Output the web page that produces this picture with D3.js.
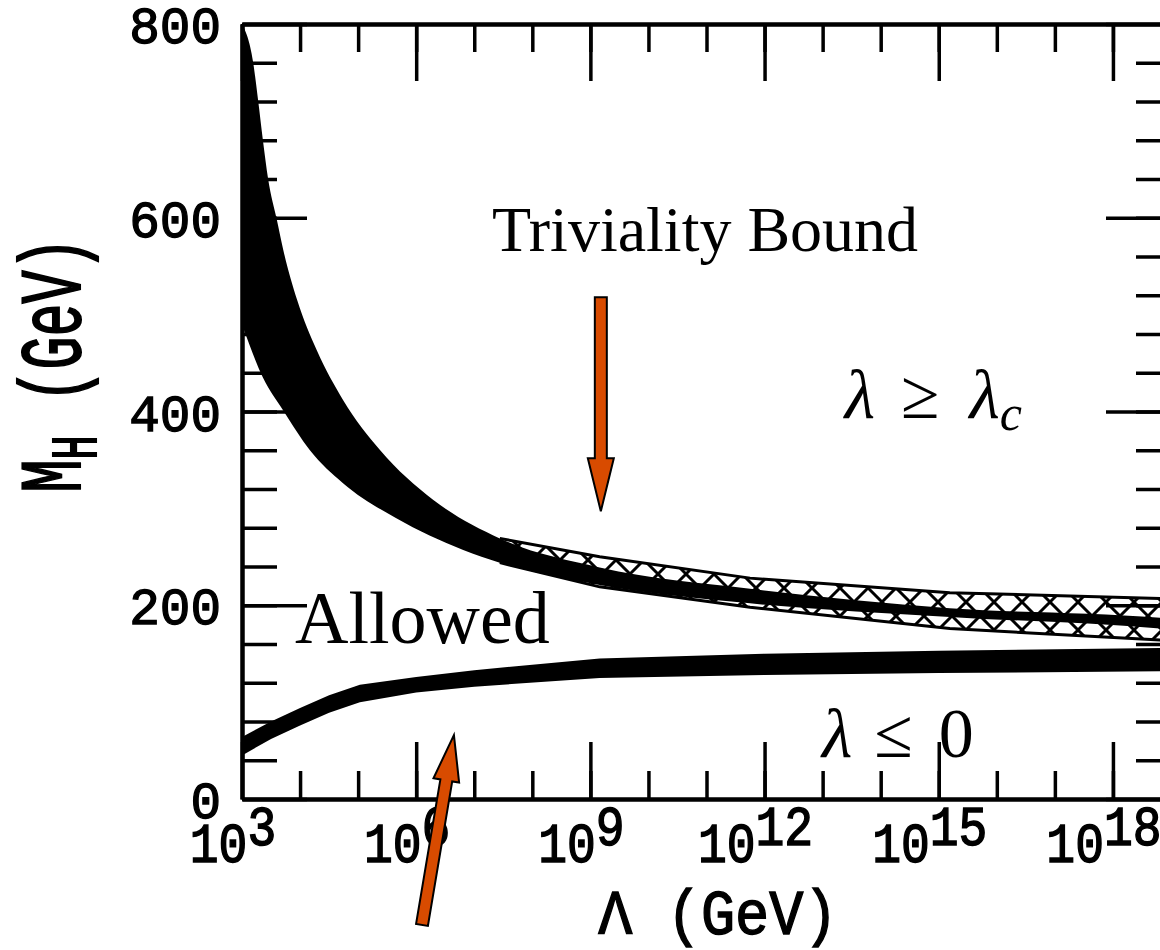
<!DOCTYPE html>
<html>
<head>
<meta charset="utf-8">
<script src="https://cdn.jsdelivr.net/npm/d3@7/dist/d3.min.js"></script>
<style>
    body { margin: 0; background: #fff; }
    svg { display: block; }
</style>
</head>
<body>
<svg id="chart" width="1160" height="950"></svg>
<script>

// triviality bound, black band: log10(Lambda/GeV) against M_H (GeV)
const trivUpperLog = [3.0, 3.19, 3.28, 3.36, 3.45, 3.60, 3.71, 3.95, 4.29, 4.74, 5.38, 6.29, 7.44, 9.16, 11.75, 15.19, 18.81, 19.0];
const trivUpperM   = [800, 761, 720, 680, 640, 598, 567, 515, 463, 412, 360, 309, 269, 239, 217, 197, 187, 186];
const trivLowerLog = [3.0, 3.36, 3.71, 4.17, 4.74, 5.65, 6.81, 7.44, 9.16, 11.75, 15.19, 18.81, 19.0];
const trivLowerM   = [490, 435, 401, 360, 326, 290, 257, 244, 221, 202, 188, 176, 175];

// hatched band round the triviality bound
const hatchLog    = [7.44, 9.16, 11.75, 15.19, 18.81, 19.0];
const hatchTop    = [269, 250, 228, 213, 207, 206.5];
const hatchBottom = [244, 219, 198, 176, 164, 163.5];

// vacuum stability band (lambda <= 0 below it)
const vacLog    = [3.0, 3.5, 4.0, 4.5, 5.03, 6.0, 7.0, 9.16, 12, 15, 19];
const vacTop    = [64, 80, 94, 107, 118, 126, 133, 145, 150, 153, 156];
const vacBottom = [45, 62, 76, 89, 100, 110, 116, 125, 128, 130, 132];

// ticks
const yMajor = [0, 200, 400, 600, 800];
const yMinor = d3.range(40, 800, 40);
const xMajor = [3, 6, 9, 12, 15, 18];
const xMinor = d3.range(4, 19, 1);

const orange = '#d84b00';
const mono = '"Liberation Mono", "Courier New", monospace';
const serif = '"Liberation Serif", "Times New Roman", serif';

const svg = d3.select('#chart');
const x = d3.scaleLinear().domain([3, 19]).range([242, 1171]);
const y = d3.scaleLinear().domain([0, 800]).range([799, 24]);

svg.append('defs').append('clipPath').attr('id', 'plotClip')
    .append('rect')
    .attr('x', x(3)).attr('y', y(800))
    .attr('width', x(19) - x(3)).attr('height', y(0) - y(800));

const cross = svg.select('defs').append('pattern')
    .attr('id', 'cross')
    .attr('patternUnits', 'userSpaceOnUse')
    .attr('width', 28).attr('height', 28);
cross.append('rect').attr('width', 28).attr('height', 28).attr('fill', '#fff');
cross.append('path')
    .attr('d', 'M-7,-7L35,35M35,-7L-7,35')
    .attr('stroke', '#000').attr('stroke-width', 3);

const plot = svg.append('g').attr('clip-path', 'url(#plotClip)');

// hatched band
var hatchPts = hatchLog.map(function(d, i) { return {l: d, t: hatchTop[i], b: hatchBottom[i]}; });
plot.append('path')
    .attr('d', d3.area().x(d => x(d.l)).y0(d => y(d.b)).y1(d => y(d.t))(hatchPts))
    .attr('fill', 'url(#cross)');
plot.append('path')
    .attr('d', d3.line().x(d => x(d.l)).y(d => y(d.t))(hatchPts))
    .attr('fill', 'none').attr('stroke', '#000').attr('stroke-width', 3);
plot.append('path')
    .attr('d', d3.line().x(d => x(d.l)).y(d => y(d.b))(hatchPts))
    .attr('fill', 'none').attr('stroke', '#000').attr('stroke-width', 3);

// black triviality band: upper edge forward, lower edge back
var edge = d3.line().x(d => x(d[0])).y(d => y(d[1])).curve(d3.curveMonotoneX);
var upperPts = trivUpperLog.map((d, i) => [d, trivUpperM[i]]);
var lowerPts = trivLowerLog.map((d, i) => [d, trivLowerM[i]]).reverse();
plot.append('path')
    .attr('d', edge(upperPts) + 'L' + edge(lowerPts).substring(1) + 'Z')
    .attr('fill', '#000');

// vacuum stability band
var vacPts = vacLog.map((d, i) => ({l: d, t: vacTop[i], b: vacBottom[i]}));
plot.append('path')
    .attr('d', d3.area().x(d => x(d.l)).y0(d => y(d.b)).y1(d => y(d.t))(vacPts))
    .attr('fill', '#000');

// frame and ticks
function styleAxis(g) {
    g.select('.domain').attr('stroke', '#000').attr('stroke-width', 4);
    g.selectAll('.tick line').attr('stroke', '#000').attr('stroke-width', 3.5);
    g.selectAll('.tick text').remove();
}

function drawTicks(axisFn, scale, minor, major, minorLen, majorLen, transform) {
    svg.append('g').attr('transform', transform)
        .call(axisFn(scale).tickValues(minor).tickSize(-minorLen).tickSizeOuter(0).tickFormat(''))
        .call(styleAxis);
    svg.append('g').attr('transform', transform)
        .call(axisFn(scale).tickValues(major).tickSize(-majorLen).tickSizeOuter(0).tickFormat(''))
        .call(styleAxis);
}

drawTicks(d3.axisLeft, y, yMinor, yMajor, 35, 65, 'translate(' + x(3) + ',0)');
drawTicks(d3.axisRight, y, yMinor, yMajor, 35, 65, 'translate(' + x(19) + ',0)');
drawTicks(d3.axisBottom, x, xMinor, xMajor, 28, 57, 'translate(0,' + y(0) + ')');
drawTicks(d3.axisTop, x, xMinor, xMajor, 28, 57, 'translate(0,' + y(800) + ')');

// typewriter-like text: regular face thickened with a thin outline
function typewriter(sel, size) {
    sel.style('font-family', mono).style('font-size', size + 'px')
        .attr('fill', '#000').attr('stroke', '#000').attr('stroke-width', 1.3);
}

// tick labels
svg.append('g').selectAll('text').data(yMajor).enter().append('text')
    .attr('x', 221)
    .attr('y', d => y(d) + 19)
    .attr('text-anchor', 'end')
    .call(typewriter, 51)
    .text(d => d);

var xLab = svg.append('g').selectAll('text').data(xMajor).enter().append('text')
    .attr('transform', d => 'translate(' + (x(d) - 9) + ',862) scale(1,1.15)')
    .attr('text-anchor', 'middle')
    .call(typewriter, 48);
xLab.append('tspan').text('10');
xLab.append('tspan').attr('dy', -15).text(d => d);

// axis titles
svg.append('text')
    .attr('transform', 'translate(718,934) scale(1,1.12)')
    .attr('text-anchor', 'middle')
    .call(typewriter, 57)
    .text('\u039B (GeV)');

var yTitle = svg.append('text')
    .attr('transform', 'translate(80,365) rotate(-90) scale(1,1.6)')
    .attr('text-anchor', 'middle')
    .call(typewriter, 55);
yTitle.append('tspan').text('M');
yTitle.append('tspan').attr('dy', 10).style('font-size', '40px').text('H');
yTitle.append('tspan').attr('dy', -10).text(' (GeV)');

// region labels
svg.append('text')
    .attr('x', x(7.305)).attr('y', y(565.5))
    .style('font-family', serif).style('font-size', '64px')
    .text('Triviality Bound');
svg.append('text')
    .attr('x', x(3.913)).attr('y', y(161))
    .style('font-family', serif).style('font-size', '74px')
    .text('Allowed');

var geq = svg.append('text')
    .attr('x', x(13.38)).attr('y', y(393))
    .style('font-family', serif).style('font-size', '70px');
geq.append('tspan').style('font-style', 'italic').text('\u03BB');
geq.append('tspan').attr('dx', 26).text('\u2265');
geq.append('tspan').attr('dx', 30).style('font-style', 'italic').text('\u03BB');
geq.append('tspan').attr('dy', 12).style('font-style', 'italic').style('font-size', '50px').text('c');

var leq = svg.append('text')
    .attr('x', x(12.99)).attr('y', y(43))
    .style('font-family', serif).style('font-size', '70px');
leq.append('tspan').style('font-style', 'italic').text('\u03BB');
leq.append('tspan').attr('dx', 22).text('\u2264');
leq.append('tspan').attr('dx', 26).text('0');

// orange arrows
function arrow(tail, tip, shaft, head, headLen) {
    var x0 = x(tail[0]), y0 = y(tail[1]), x1 = x(tip[0]), y1 = y(tip[1]);
    var len = Math.hypot(x1 - x0, y1 - y0);
    var ux = (x1 - x0) / len, uy = (y1 - y0) / len;
    var nx = -uy, ny = ux;
    var bx = x1 - ux * headLen, by = y1 - uy * headLen;
    var pts = [
        [x0 + nx * shaft / 2, y0 + ny * shaft / 2],
        [bx + nx * shaft / 2, by + ny * shaft / 2],
        [bx + nx * head / 2, by + ny * head / 2],
        [x1, y1],
        [bx - nx * head / 2, by - ny * head / 2],
        [bx - nx * shaft / 2, by - ny * shaft / 2],
        [x0 - nx * shaft / 2, y0 - ny * shaft / 2]
    ];
    svg.append('polygon')
        .attr('points', pts.map(p => p.join(',')).join(' '))
        .attr('fill', orange).attr('stroke', '#000').attr('stroke-width', 2)
        .attr('stroke-linejoin', 'miter');
}

arrow([9.18, 518], [9.18, 297], 12, 26, 53);
arrow([6.10, -130], [6.65, 66], 12, 26, 46);

</script>
</body>
</html>
